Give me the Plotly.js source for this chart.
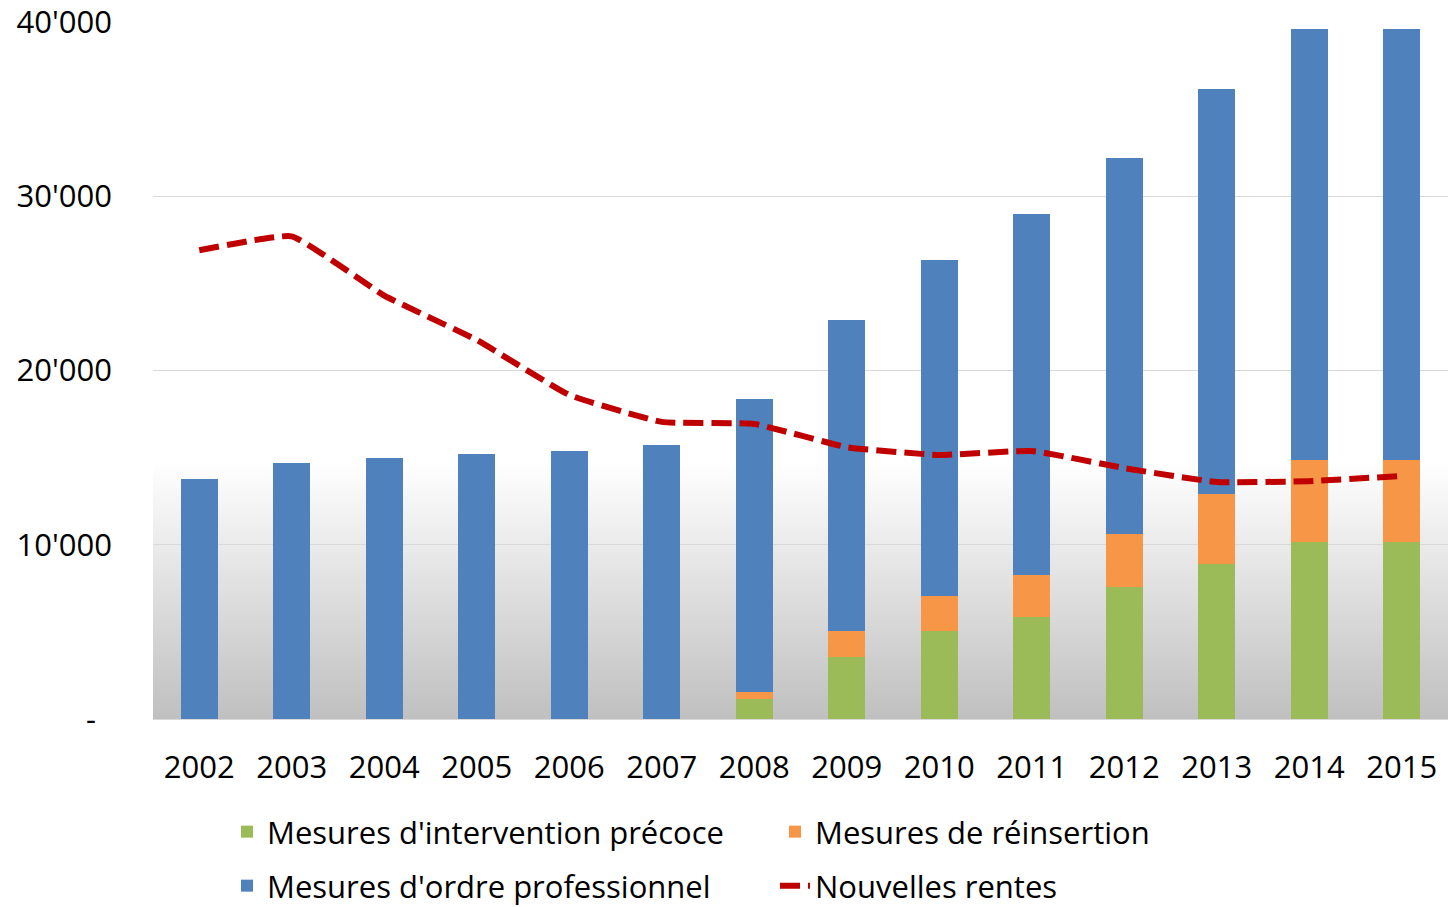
<!DOCTYPE html>
<html>
<head>
<meta charset="utf-8">
<script src="https://cdn.plot.ly/plotly-3.0.1.min.js"></script>
<style>html,body{margin:0;padding:0;background:#fff;}#chart{width:1451px;height:907px;}</style>
</head>
<body>
<div id="chart"></div>
<script>
const years = ['2002','2003','2004','2005','2006','2007','2008','2009','2010','2011','2012','2013','2014','2015'];
const interventionPrecoce = [0, 0, 0, 0, 0, 0, 1150, 3560, 5030, 5870, 7560, 8910, 10180, 10180];
const reinsertion = [0, 0, 0, 0, 0, 0, 420, 1490, 2050, 2390, 3040, 4020, 4670, 4670];
const ordreProfessionnel = [13800, 14700, 15000, 15200, 15400, 15700, 16790, 17850, 19260, 20720, 21590, 23220, 24750, 24750];
const nouvellesRentes = [26900, 27700, 24300, 21750, 18600, 17050, 16930, 15600, 15150, 15380, 14400, 13600, 13650, 13950];
const yTickVals = [0, 10000, 20000, 30000, 40000];
const yTickText = ['-\u00a0\u00a0', "10'000", "20'000", "30'000", "40'000"];

const FONT = 'Open Sans, Noto Sans, sans-serif';

const traces = [
  {type:'bar', name:"Mesures d'intervention précoce", x:years, y:interventionPrecoce,
   marker:{color:'#9BBB59'}, legend:'legend'},
  {type:'bar', name:'Mesures de réinsertion', x:years, y:reinsertion,
   marker:{color:'#F79646'}, legend:'legend'},
  {type:'bar', name:"Mesures d'ordre professionnel", x:years, y:ordreProfessionnel,
   marker:{color:'#4F81BD'}, legend:'legend2'},
  {type:'scatter', mode:'lines', name:'Nouvelles rentes', x:years, y:nouvellesRentes,
   line:{color:'#C00000', width:6, dash:'20px,8px', shape:'spline', smoothing:0.35}, legend:'legend2'}
];

// background gradient in the lower part of the plot area (stacked, overlapping rects -> no seams)
const shapes = [];
const gTop = 0.372, nSteps = 64;
for (let i = 0; i < nSteps; i++) {
  const top = gTop * (nSteps - i) / nSteps;
  const t = i / (nSteps - 1);
  const c = Math.round(255 - 63 * t);
  shapes.push({type:'rect', xref:'paper', yref:'paper', x0:0, x1:1, y0:0, y1:top,
    fillcolor:`rgb(${c},${c},${c})`, line:{width:0}, layer:'below'});
}

const legendCommon = {orientation:'h', xref:'container', yref:'container', xanchor:'left', yanchor:'middle',
  font:{family:FONT, size:31, color:'#000'}, entrywidth:503, entrywidthmode:'pixels',
  bgcolor:'rgba(0,0,0,0)', traceorder:'normal'};

const layout = {
  width:1451, height:907,
  margin:{l:153, r:3, t:22, b:188},
  paper_bgcolor:'#ffffff', plot_bgcolor:'#ffffff',
  barmode:'stack', bargap:0.6,
  font:{family:FONT, size:31, color:'#000'},
  xaxis:{type:'category', showgrid:false, showline:true, linecolor:'#d9d9d9', linewidth:1,
    ticks:'', ticklabelstandoff:21, tickfont:{family:FONT, size:31, color:'#000'}},
  yaxis:{range:[0, 40000], tickvals:yTickVals, ticktext:yTickText, showgrid:true, gridcolor:'#d9d9d9',
    gridwidth:1, zeroline:false, showline:false, ticks:'', ticklabelstandoff:40,
    ticklabeloverflow:'allow', tickfont:{family:FONT, size:31, color:'#000'}},
  legend:Object.assign({}, legendCommon, {x:(275-48)/1451, y:1-832/907}),
  legend2:Object.assign({}, legendCommon, {x:(275-48)/1451, y:1-886/907}),
  shapes:shapes,
  showlegend:true
};

Plotly.newPlot('chart', traces, layout, {displayModeBar:false, staticPlot:true});
</script>
</body>
</html>
